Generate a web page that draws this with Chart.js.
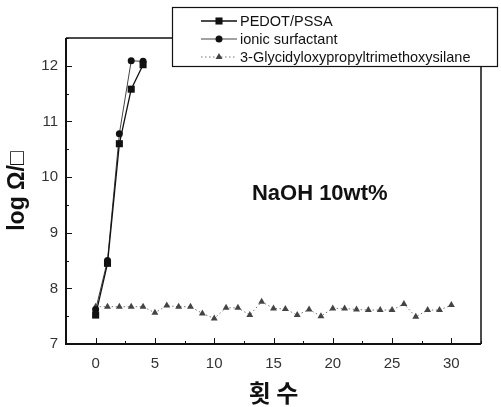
<!DOCTYPE html>
<html>
<head>
<meta charset="utf-8">
<script src="https://cdn.jsdelivr.net/npm/chart.js@4.4.1/dist/chart.umd.min.js"></script>
<style>
  body { margin: 0; background: #fff; }
  canvas { display: block; }
</style>
</head>
<body>
<canvas id="washChart" width="501" height="407"></canvas>
<script>
// Sheet resistance (log ohm/sq) against number of washes in NaOH 10wt%
const pedotCycles = [0, 1, 2, 3, 4];
const pedotValues = [7.52, 8.45, 10.6, 11.58, 12.02];

const ionicCycles = [0, 1, 2, 3, 4];
const ionicValues = [7.62, 8.5, 10.78, 12.09, 12.08];

const silaneCycles = [0, 1, 2, 3, 4, 5, 6, 7, 8, 9, 10, 11, 12, 13, 14, 15,
                      16, 17, 18, 19, 20, 21, 22, 23, 24, 25, 26, 27, 28, 29, 30];
const silaneValues = [7.67, 7.67, 7.67, 7.67, 7.67, 7.56, 7.69, 7.67, 7.67, 7.55, 7.46,
                      7.65, 7.65, 7.52, 7.76, 7.64, 7.63, 7.52, 7.62, 7.5, 7.64,
                      7.64, 7.62, 7.61, 7.61, 7.61, 7.72, 7.49, 7.61, 7.61, 7.7];

const seriesNames = ["PEDOT/PSSA", "ionic surfactant", "3-Glycidyloxypropyltrimethoxysilane"];

const xTicks = [0, 5, 10, 15, 20, 25, 30];
const yTicks = [7, 8, 9, 10, 11, 12];
const xMinorTicks = [2.5, 7.5, 12.5, 17.5, 22.5, 27.5, 32.5];
const yMinorTicks = [7.5, 8.5, 9.5, 10.5, 11.5, 12.5];

const noteText = "NaOH 10wt%";

function toPoints(xs, ys) {
  return xs.map((x, i) => ({ x: x, y: ys[i] }));
}

// frame and inward tick marks
const framePlugin = {
  id: "frame",
  afterDatasetsDraw(chart) {
    const { ctx, chartArea: a, scales } = chart;
    ctx.save();
    ctx.strokeStyle = "#111";
    ctx.lineWidth = 1.5;
    ctx.beginPath();
    ctx.moveTo(a.left, a.top);
    ctx.lineTo(a.right, a.top);
    ctx.lineTo(a.right, a.bottom);
    ctx.stroke();
    ctx.lineWidth = 2;
    ctx.beginPath();
    ctx.moveTo(a.left, a.top);
    ctx.lineTo(a.left, a.bottom);
    ctx.lineTo(a.right, a.bottom);
    ctx.stroke();

    ctx.lineWidth = 1;
    ctx.beginPath();
    xTicks.forEach(v => {
      const px = Math.round(scales.x.getPixelForValue(v)) + 0.5;
      ctx.moveTo(px, a.bottom);
      ctx.lineTo(px, a.bottom - 6);
    });
    xMinorTicks.forEach(v => {
      const px = Math.round(scales.x.getPixelForValue(v)) + 0.5;
      ctx.moveTo(px, a.bottom);
      ctx.lineTo(px, a.bottom - 3);
    });
    yTicks.forEach(v => {
      const py = Math.round(scales.y.getPixelForValue(v)) + 0.5;
      ctx.moveTo(a.left, py);
      ctx.lineTo(a.left + 6, py);
    });
    yMinorTicks.forEach(v => {
      const py = Math.round(scales.y.getPixelForValue(v)) + 0.5;
      ctx.moveTo(a.left, py);
      ctx.lineTo(a.left + 3, py);
    });
    ctx.stroke();

    // condition label inside the plot
    ctx.fillStyle = "#111";
    ctx.font = "bold 22px 'Liberation Sans', Arial, sans-serif";
    ctx.textAlign = "center";
    ctx.textBaseline = "middle";
    ctx.fillText(noteText, scales.x.getPixelForValue(18.9), scales.y.getPixelForValue(9.7));
    ctx.restore();
  }
};

function drawMarker(ctx, style, x, y, r) {
  ctx.beginPath();
  if (style === "rect") {
    const s = r * Math.SQRT1_2;
    ctx.rect(x - s, y - s, 2 * s, 2 * s);
  } else if (style === "circle") {
    ctx.arc(x, y, r, 0, Math.PI * 2);
  } else {
    ctx.moveTo(x, y - r);
    ctx.lineTo(x + r * 0.87, y + r * 0.5);
    ctx.lineTo(x - r * 0.87, y + r * 0.5);
    ctx.closePath();
  }
  ctx.fill();
}

// boxed legend sitting over the top edge of the frame
const legendBoxPlugin = {
  id: "legendBox",
  afterDraw(chart) {
    const ctx = chart.ctx;
    const box = { left: 172, top: 7, right: 498, bottom: 67 };
    ctx.save();
    ctx.fillStyle = "#fff";
    ctx.fillRect(box.left, box.top, box.right - box.left, box.bottom - box.top);
    ctx.strokeStyle = "#111";
    ctx.lineWidth = 1.2;
    ctx.strokeRect(box.left + 0.5, box.top + 0.5, box.right - box.left - 1, box.bottom - box.top - 1);

    ctx.font = "14.5px 'Liberation Sans', Arial, sans-serif";
    ctx.textBaseline = "middle";
    chart.data.datasets.forEach((ds, i) => {
      const y = 21 + i * 18;
      ctx.strokeStyle = ds.borderColor;
      ctx.lineWidth = ds.borderWidth;
      ctx.setLineDash(ds.borderDash || []);
      ctx.beginPath();
      ctx.moveTo(201, y);
      ctx.lineTo(237, y);
      ctx.stroke();
      ctx.setLineDash([]);
      ctx.fillStyle = ds.pointBackgroundColor;
      drawMarker(ctx, ds.pointStyle, 219, y, ds.pointRadius);
      ctx.fillStyle = "#111";
      ctx.fillText(ds.label, 240, y + 1);
    });
    ctx.restore();
  }
};

new Chart(document.getElementById("washChart"), {
  type: "line",
  data: {
    datasets: [
      {
        label: seriesNames[0],
        data: toPoints(pedotCycles, pedotValues),
        borderColor: "#111",
        borderWidth: 1.3,
        pointStyle: "rect",
        pointRadius: 5,
        pointBackgroundColor: "#111",
        pointBorderWidth: 0
      },
      {
        label: seriesNames[1],
        data: toPoints(ionicCycles, ionicValues),
        borderColor: "#444",
        borderWidth: 1,
        pointStyle: "circle",
        pointRadius: 3.5,
        pointBackgroundColor: "#111",
        pointBorderWidth: 0
      },
      {
        label: seriesNames[2],
        data: toPoints(silaneCycles, silaneValues),
        borderColor: "#777",
        borderWidth: 1,
        borderDash: [1.5, 2.5],
        pointStyle: "triangle",
        pointRadius: 4,
        pointBackgroundColor: "#444",
        pointBorderWidth: 0
      }
    ]
  },
  options: {
    responsive: false,
    animation: false,
    devicePixelRatio: 1,
    layout: { padding: { left: 0, top: 38, right: 20, bottom: 0 } },
    plugins: {
      legend: { display: false },
      tooltip: { enabled: false }
    },
    scales: {
      x: {
        type: "linear",
        min: -2.5,
        max: 32.5,
        afterBuildTicks: scale => { scale.ticks = xTicks.map(v => ({ value: v })); },
        afterFit: scale => { scale.height = 63; },
        grid: { display: false, drawTicks: false },
        border: { display: false },
        ticks: {
          padding: 11,
          color: "#333",
          font: { family: "'Liberation Sans', Arial", size: 15 }
        },
        title: {
          display: true,
          text: "횟 수",
          color: "#111",
          padding: { top: 0, bottom: 0 },
          font: { family: "'Noto Sans CJK KR', sans-serif", size: 24, weight: "bold" }
        }
      },
      y: {
        type: "linear",
        min: 7,
        max: 12.5,
        afterBuildTicks: scale => { scale.ticks = yTicks.map(v => ({ value: v })); },
        afterFit: scale => { scale.width = 66; },
        grid: { display: false, drawTicks: false },
        border: { display: false },
        ticks: {
          padding: 8,
          color: "#333",
          font: { family: "'Liberation Sans', Arial", size: 15 }
        },
        title: {
          display: true,
          text: "log Ω/□",
          color: "#111",
          padding: { top: 4, bottom: 0 },
          font: { family: "'Liberation Sans', Arial", size: 23, weight: "bold" }
        }
      }
    }
  },
  plugins: [framePlugin, legendBoxPlugin]
});
</script>
</body>
</html>
